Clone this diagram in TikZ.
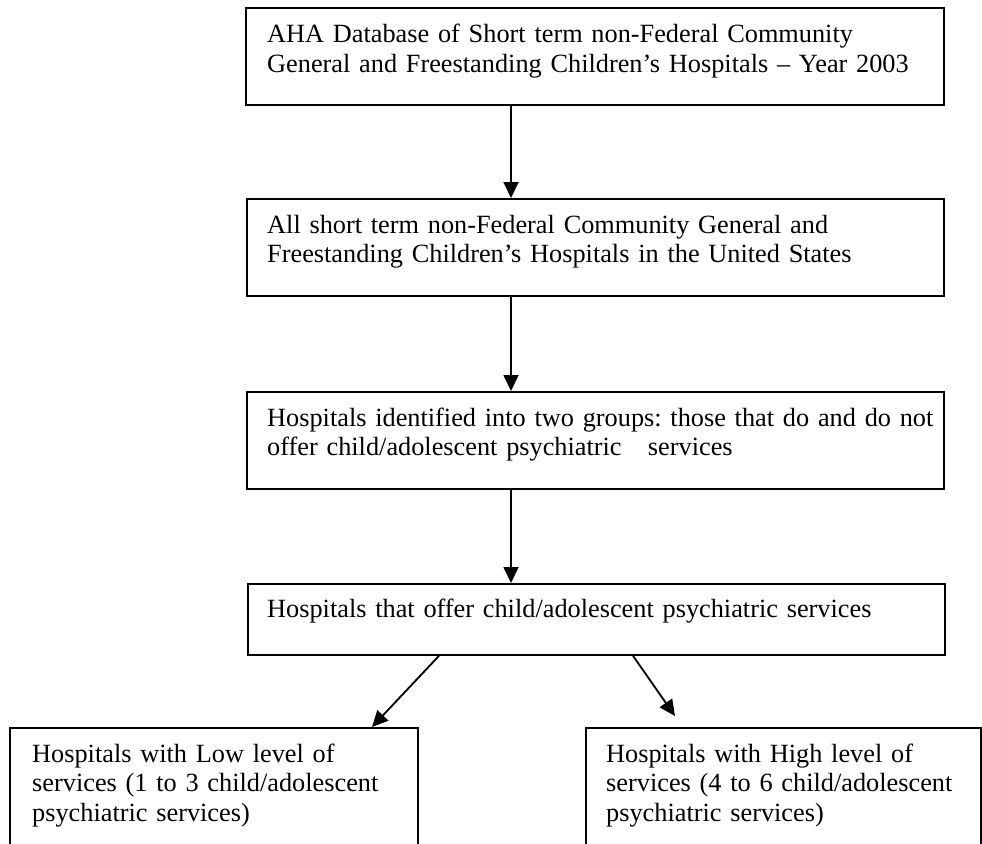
\documentclass[tikz,border=0pt]{standalone}
\usepackage{fontspec}
\setmainfont{Liberation Serif}
\usetikzlibrary{arrows.meta,calc}
\frenchspacing
\begin{document}
\begin{tikzpicture}[x=1pt,y=-1pt,
  box/.style={draw, line width=1.8pt, rectangle, inner sep=0pt, anchor=north west},
  txt/.style={anchor=base west, inner sep=0pt, text width=#1, align=left,
              font=\fontsize{26.3}{29.5}\selectfont},
  arr/.style={line width=1.8pt, -{Triangle[length=16pt,width=15pt]}}]
\useasboundingbox (0,0) rectangle (982,843);
\clip (0,0) rectangle (982,843);

% boxes
\node[box, minimum width=698pt, minimum height=97pt] (b1) at (245,7) {};
\node[box, minimum width=697pt, minimum height=97pt] (b2) at (246,198) {};
\node[box, minimum width=697pt, minimum height=97pt] (b3) at (246,391) {};
\node[box, minimum width=697pt, minimum height=71pt] (b4) at (247,583) {};
\node[box, minimum width=408pt, minimum height=150pt] (b5) at (9,727) {};
\node[box, minimum width=395pt, minimum height=150pt] (b6) at (585,727) {};

% box texts
\node[txt=690pt] (t1) at (267,43) {AHA Database of Short term non-Federal Community\\
  General and Freestanding Children’s Hospitals – Year 2003};
\node[txt=690pt] (t2) at (267,233) {All short term non-Federal Community General and\\
  Freestanding Children’s Hospitals in the United States};
\node[txt=690pt] (t3) at (267,426) {Hospitals identified into two groups: those that do and do not\\
  offer child/adolescent psychiatric\ \ \ services};
\node[txt=690pt] (t4) at (267,617) {Hospitals that offer child/adolescent psychiatric services};
\node[txt=380pt] (t5) at (32,762) {Hospitals with Low level of\\
  services (1 to 3 child/adolescent\\psychiatric services)};
\node[txt=380pt] (t6) at (606,762) {Hospitals with High level of\\
  services (4 to 6 child/adolescent\\psychiatric services)};

% connector columns and free ends
\coordinate (ax) at (511,0);
\coordinate (lx) at (439,0);
\coordinate (rx) at (633,0);
\coordinate (lend) at (372,0);
\coordinate (rend) at (675,716);

% connectors
\draw[arr] (b1.south -| ax) -- (b2.north -| ax);
\draw[arr] (b2.south -| ax) -- (b3.north -| ax);
\draw[arr] (b3.south -| ax) -- (b4.north -| ax);
\draw[arr] (b4.south -| lx) -- (b5.north -| lend);
\draw[arr] (b4.south -| rx) -- (rend);
\end{tikzpicture}
\end{document}
